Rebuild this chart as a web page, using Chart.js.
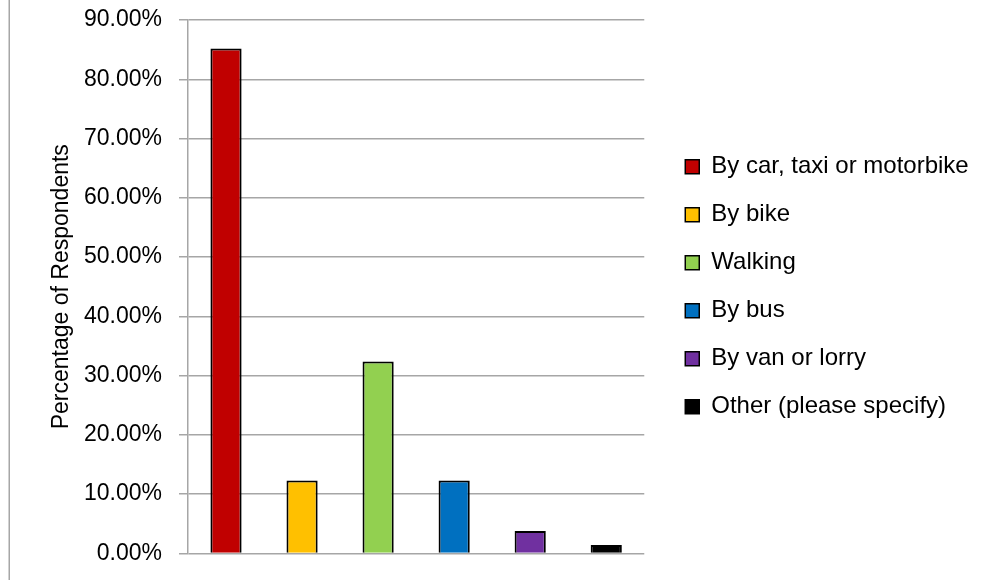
<!DOCTYPE html>
<html>
<head>
<meta charset="utf-8">
<script src="https://cdn.jsdelivr.net/npm/chart.js@4/dist/chart.umd.min.js"></script>
<style>
html,body{margin:0;padding:0;background:#fff;}
#wrap{width:988px;height:580px;position:relative;}
</style>
</head>
<body>
<div id="wrap"><canvas id="c" width="988" height="580"></canvas></div>
<script>
const categories = ["By car, taxi or motorbike", "By bike", "Walking", "By bus", "By van or lorry", "Other (please specify)"];
const values = [85.2, 12.3, 32.4, 12.3, 3.76, 1.4];
const colors = ["#C00000", "#FFC000", "#92D050", "#0070C0", "#7030A0", "#000000"];
const yTicks = [0, 10, 20, 30, 40, 50, 60, 70, 80, 90];
const yTitle = "Percentage of Respondents";

const FONT = "'Liberation Sans', Arial, sans-serif";
const GRID = "#a6a6a6";

const leftBorder = {
  id: 'leftBorder',
  beforeDraw(chart) {
    const ctx = chart.ctx;
    ctx.save();
    ctx.strokeStyle = GRID;
    ctx.lineWidth = 1.5;
    ctx.beginPath();
    ctx.moveTo(9.25, 0);
    ctx.lineTo(9.25, chart.height);
    ctx.stroke();
    ctx.restore();
  }
};

new Chart(document.getElementById('c'), {
  type: 'bar',
  data: {
    labels: categories,
    datasets: [{
      data: values,
      backgroundColor: colors,
      borderColor: '#000',
      borderWidth: 2,
      barPercentage: 0.41,
      categoryPercentage: 1.0
    }]
  },
  options: {
    responsive: false,
    animation: false,
    devicePixelRatio: 1,
    layout: { padding: { left: 0, right: 9.3, top: 20, bottom: 26.6 } },
    plugins: {
      tooltip: { enabled: false },
      legend: {
        position: 'right',
        maxWidth: 400,
        labels: {
          boxWidth: 14,
          boxHeight: 14,
          padding: 24,
          color: '#000',
          font: { family: FONT, size: 24 },
          generateLabels: (chart) => categories.map((c, i) => ({
            text: c,
            fillStyle: colors[i],
            strokeStyle: '#000',
            lineWidth: 1.5,
            hidden: false,
            index: i
          }))
        }
      }
    },
    scales: {
      x: {
        display: false
      },
      y: {
        position: 'left',
        min: 0,
        max: 90,
        afterBuildTicks: (s) => { s.ticks = yTicks.map(v => ({ value: v })); },
        afterFit: (s) => { s.width = 188; s.paddingTop = 10; s.paddingBottom = 10; },
        ticks: {
          padding: 17,
          color: '#000',
          font: { family: FONT, size: 23 },
          callback: (v) => Number(v).toFixed(2) + '%'
        },
        grid: {
          color: GRID,
          lineWidth: 1.5,
          tickLength: 9,
          drawTicks: true
        },
        border: { display: true, color: GRID, width: 1.5 },
        title: {
          display: true,
          text: yTitle,
          color: '#000',
          font: { family: FONT, size: 23 },
          padding: { top: 48, bottom: 0 }
        }
      },
      y2: {
        position: 'right',
        display: true,
        grid: { display: false },
        border: { display: false },
        ticks: { display: false },
        afterFit: (s) => { s.width = 17; s.paddingTop = 0; s.paddingBottom = 0; }
      }
    }
  },
  plugins: [leftBorder]
});
</script>
</body>
</html>
